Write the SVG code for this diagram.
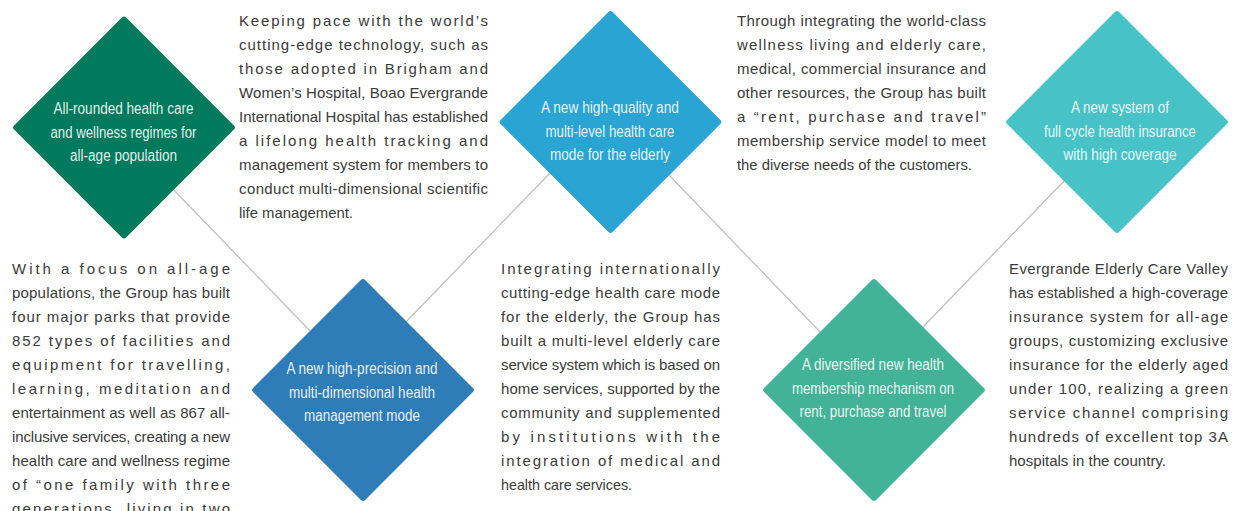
<svg xmlns="http://www.w3.org/2000/svg" width="1237" height="511" viewBox="0 0 1237 511">
<style>
.bg{fill:#ffffff}
.conn line{stroke:#bdbdbd;stroke-width:1.2;fill:none}
.lbl{font-family:"Liberation Sans",Arial,sans-serif;font-size:16px;fill:#ffffff;fill-opacity:0.9;text-anchor:middle}
.body{font-family:"Liberation Sans",Arial,sans-serif;font-size:15px;fill:#3a3a3a}
</style>
<defs>
<rect id="dia" x="-79.2" y="-79.2" width="158.4" height="158.4" rx="3" ry="3" transform="rotate(45)"/>
</defs>
<rect class="bg" x="0" y="0" width="1237" height="511"/>

<g id="connectors" class="conn">
<line x1="170" y1="186" x2="313" y2="334"/>
<line x1="552" y1="171" x2="404" y2="324"/>
<line x1="668" y1="174" x2="822" y2="334"/>
<line x1="1066" y1="179" x2="921" y2="329"/>
</g>

<g id="node1">
<use href="#dia" transform="translate(124,127.5)" fill="#007a5c"/>
<text class="lbl" x="123.5" y="114" textLength="140" lengthAdjust="spacingAndGlyphs">All-rounded health care</text>
<text class="lbl" x="123.5" y="137.5" textLength="146" lengthAdjust="spacingAndGlyphs">and wellness regimes for</text>
<text class="lbl" x="123.5" y="161" textLength="107" lengthAdjust="spacingAndGlyphs">all-age population</text>
</g>

<g id="node2">
<use href="#dia" transform="translate(363,390)" fill="#2f7db8"/>
<text class="lbl" x="362" y="374" textLength="151" lengthAdjust="spacingAndGlyphs">A new high-precision and</text>
<text class="lbl" x="362" y="397.5" textLength="146" lengthAdjust="spacingAndGlyphs">multi-dimensional health</text>
<text class="lbl" x="362" y="421" textLength="116" lengthAdjust="spacingAndGlyphs">management mode</text>
</g>

<g id="node3">
<use href="#dia" transform="translate(610.5,122)" fill="#2aa4d3"/>
<text class="lbl" x="610" y="113" textLength="138" lengthAdjust="spacingAndGlyphs">A new high-quality and</text>
<text class="lbl" x="610" y="136.5" textLength="129" lengthAdjust="spacingAndGlyphs">multi-level health care</text>
<text class="lbl" x="610" y="160" textLength="120" lengthAdjust="spacingAndGlyphs">mode for the elderly</text>
</g>

<g id="node4">
<use href="#dia" transform="translate(874,390)" fill="#43b397"/>
<text class="lbl" x="873" y="370" textLength="142" lengthAdjust="spacingAndGlyphs">A diversified new health</text>
<text class="lbl" x="873" y="393.5" textLength="162" lengthAdjust="spacingAndGlyphs">membership mechanism on</text>
<text class="lbl" x="873" y="417" textLength="147" lengthAdjust="spacingAndGlyphs">rent, purchase and travel</text>
</g>

<g id="node5">
<use href="#dia" transform="translate(1117,122)" fill="#47c3c8"/>
<text class="lbl" x="1120" y="113" textLength="98" lengthAdjust="spacingAndGlyphs">A new system of</text>
<text class="lbl" x="1120" y="136.5" textLength="152" lengthAdjust="spacingAndGlyphs">full cycle health insurance</text>
<text class="lbl" x="1120" y="160" textLength="113" lengthAdjust="spacingAndGlyphs">with high coverage</text>
</g>

<g id="text1" class="body">
<text x="239" y="26" textLength="249" lengthAdjust="spacing">Keeping pace with the world’s</text>
<text x="239" y="50" textLength="249" lengthAdjust="spacing">cutting-edge technology, such as</text>
<text x="239" y="74" textLength="249" lengthAdjust="spacing">those adopted in Brigham and</text>
<text x="239" y="98" textLength="249" lengthAdjust="spacing">Women’s Hospital, Boao Evergrande</text>
<text x="239" y="122" textLength="249" lengthAdjust="spacing">International Hospital has established</text>
<text x="239" y="146" textLength="249" lengthAdjust="spacing">a lifelong health tracking and</text>
<text x="239" y="170" textLength="249" lengthAdjust="spacing">management system for members to</text>
<text x="239" y="194" textLength="249" lengthAdjust="spacing">conduct multi-dimensional scientific</text>
<text x="239" y="218" textLength="114" lengthAdjust="spacingAndGlyphs">life management.</text>
</g>

<g id="text2" class="body">
<text x="12" y="274" textLength="218" lengthAdjust="spacing">With a focus on all-age</text>
<text x="12" y="298" textLength="218" lengthAdjust="spacing">populations, the Group has built</text>
<text x="12" y="322" textLength="218" lengthAdjust="spacing">four major parks that provide</text>
<text x="12" y="346" textLength="218" lengthAdjust="spacing">852 types of facilities and</text>
<text x="12" y="370" textLength="218" lengthAdjust="spacing">equipment for travelling,</text>
<text x="12" y="394" textLength="218" lengthAdjust="spacing">learning, meditation and</text>
<text x="12" y="418" textLength="218" lengthAdjust="spacing">entertainment as well as 867 all-</text>
<text x="12" y="442" textLength="218" lengthAdjust="spacing">inclusive services, creating a new</text>
<text x="12" y="466" textLength="218" lengthAdjust="spacing">health care and wellness regime</text>
<text x="12" y="490" textLength="218" lengthAdjust="spacing">of “one family with three</text>
<text x="12" y="514" textLength="218" lengthAdjust="spacing">generations, living in two</text>
</g>

<g id="text3" class="body">
<text x="737" y="26" textLength="249" lengthAdjust="spacing">Through integrating the world-class</text>
<text x="737" y="50" textLength="249" lengthAdjust="spacing">wellness living and elderly care,</text>
<text x="737" y="74" textLength="249" lengthAdjust="spacing">medical, commercial insurance and</text>
<text x="737" y="98" textLength="249" lengthAdjust="spacing">other resources, the Group has built</text>
<text x="737" y="122" textLength="249" lengthAdjust="spacing">a “rent, purchase and travel”</text>
<text x="737" y="146" textLength="249" lengthAdjust="spacing">membership service model to meet</text>
<text x="737" y="170" textLength="235" lengthAdjust="spacingAndGlyphs">the diverse needs of the customers.</text>
</g>

<g id="text4" class="body">
<text x="501" y="274" textLength="219" lengthAdjust="spacing">Integrating internationally</text>
<text x="501" y="298" textLength="219" lengthAdjust="spacing">cutting-edge health care mode</text>
<text x="501" y="322" textLength="219" lengthAdjust="spacing">for the elderly, the Group has</text>
<text x="501" y="346" textLength="219" lengthAdjust="spacing">built a multi-level elderly care</text>
<text x="501" y="370" textLength="219" lengthAdjust="spacing">service system which is based on</text>
<text x="501" y="394" textLength="219" lengthAdjust="spacing">home services, supported by the</text>
<text x="501" y="418" textLength="219" lengthAdjust="spacing">community and supplemented</text>
<text x="501" y="442" textLength="219" lengthAdjust="spacing">by institutions with the</text>
<text x="501" y="466" textLength="219" lengthAdjust="spacing">integration of medical and</text>
<text x="501" y="490" textLength="131" lengthAdjust="spacingAndGlyphs">health care services.</text>
</g>

<g id="text5" class="body">
<text x="1009" y="274" textLength="219" lengthAdjust="spacing">Evergrande Elderly Care Valley</text>
<text x="1009" y="298" textLength="219" lengthAdjust="spacing">has established a high-coverage</text>
<text x="1009" y="322" textLength="219" lengthAdjust="spacing">insurance system for all-age</text>
<text x="1009" y="346" textLength="219" lengthAdjust="spacing">groups, customizing exclusive</text>
<text x="1009" y="370" textLength="219" lengthAdjust="spacing">insurance for the elderly aged</text>
<text x="1009" y="394" textLength="219" lengthAdjust="spacing">under 100, realizing a green</text>
<text x="1009" y="418" textLength="219" lengthAdjust="spacing">service channel comprising</text>
<text x="1009" y="442" textLength="219" lengthAdjust="spacing">hundreds of excellent top 3A</text>
<text x="1009" y="466" textLength="157" lengthAdjust="spacingAndGlyphs">hospitals in the country.</text>
</g>
</svg>
